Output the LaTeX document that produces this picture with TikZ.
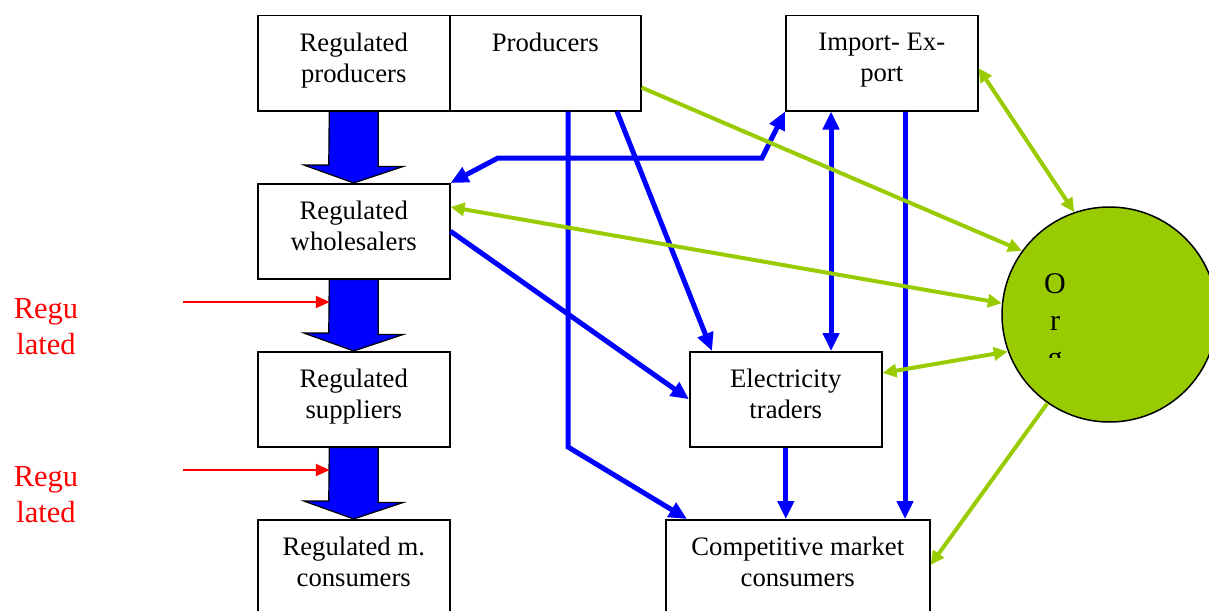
\documentclass[tikz,border=0pt]{standalone}
\usepackage{fontspec}
\setmainfont{Liberation Serif}
\usetikzlibrary{arrows.meta,calc}
\definecolor{ablue}{HTML}{0000FF}
\definecolor{agreen}{HTML}{99CC00}
\definecolor{ared}{HTML}{FF0000}
\begin{document}
\begin{tikzpicture}[x=1pt,y=-1pt,
  box/.style={draw,line width=1.5pt,anchor=north west,inner sep=0pt,minimum width=192pt,minimum height=95pt},
  btext/.style={anchor=north,align=center,inner sep=0pt,font=\fontsize{26.7}{31}\selectfont},
  rtext/.style={anchor=north,align=center,inner sep=0pt,text=ared,font=\fontsize{30.5}{36}\selectfont},
  blockarrow/.style={fill=ablue,draw=black,line width=1.2pt,line join=miter},
  bluearr/.style={draw=ablue,line width=5pt,-{Triangle[length=18pt,width=16pt]}},
  bluedbl/.style={draw=ablue,line width=5pt,{Triangle[length=18pt,width=16pt]}-{Triangle[length=18pt,width=16pt]}},
  greenarr/.style={draw=agreen,line width=4pt,-{Triangle[length=14pt,width=13pt]}},
  greendbl/.style={draw=agreen,line width=4pt,{Triangle[length=14pt,width=13pt]}-{Triangle[length=14pt,width=13pt]}},
  redarr/.style={draw=ared,line width=2pt,-{Triangle[length=14pt,width=12pt]}}]
\useasboundingbox (0,0) rectangle (1209,610);
\clip (0,0) rectangle (1209,610);

% boxes
\node[box] (rp) at (257,15) {};
\node[box,minimum width=191pt] (prod) at (449,15) {};
\node[box] (ie) at (785,15) {};
\node[box] (ww) at (257,183) {};
\node[box] (rs) at (257,351) {};
\node[box,minimum height=110pt] (rc) at (257,519) {};
\node[box] (et) at (689,351) {};
\node[box,minimum width=264pt,minimum height=110pt] (cm) at (665,519) {};

% box texts
\node[btext] (rpt) at ($(rp.north)+(0,18)$) {Regulated\\producers};
\node[btext] (prodt) at ($(prod.north)+(0,18)$) {Producers};
\node[btext] (iet) at ($(ie.north)+(0,18)$) {Import- Ex-\\port};
\node[btext] (wwt) at ($(ww.north)+(0,18)$) {Regulated\\wholesalers};
\node[btext] (rst) at ($(rs.north)+(0,18)$) {Regulated\\suppliers};
\node[btext] (rct) at ($(rc.north)+(0,18)$) {Regulated m.\\consumers};
\node[btext] (ett) at ($(et.north)+(0,18)$) {Electricity\\traders};
\node[btext] (cmt) at ($(cm.north)+(0,18)$) {Competitive market\\consumers};

% block arrows
\draw[blockarrow] ($(rp.south)+(-24.5,0)$) -- ++(49,0) -- ++(0,55) -- ++(25,0) -- (ww.north) -- ++(-50,-18) -- ++(25,0) -- cycle;
\draw[blockarrow] ($(ww.south)+(-24.5,0)$) -- ++(49,0) -- ++(0,55) -- ++(25,0) -- (rs.north) -- ++(-50,-18) -- ++(25,0) -- cycle;
\draw[blockarrow] ($(rs.south)+(-24.5,0)$) -- ++(49,0) -- ++(0,55) -- ++(25,0) -- (rc.north) -- ++(-50,-18) -- ++(25,0) -- cycle;

% red labels and arrows
\node[rtext] (reg1) at (46,298) {Regu\\lated};
\node[rtext] (reg2) at (46,466) {Regu\\lated};
\coordinate (r1s) at (183,302);
\coordinate (r1e) at ($(ww.south)+(-24,0)$);
\coordinate (r2s) at (183,470);
\coordinate (r2e) at ($(rs.south)+(-24,0)$);
\draw[redarr] (r1s) -- (r1s -| r1e);
\draw[redarr] (r2s) -- (r2s -| r2e);

% blue connectors
\coordinate (b1) at (498,158);
\coordinate (b2) at (762,158);
\draw[bluedbl,line join=miter] (ww.north east) -- (b1) -- (b2) -- (ie.south west);
\coordinate (pA) at ($(prod.south west)+(119,0)$);
\coordinate (pAb) at (568,447);
\draw[bluearr,line join=miter] (pA) -- (pAb) -- ($(cm.north west)+(22,0)$);
\draw[bluearr] ($(prod.south west)+(168,0)$) -- ($(et.north west)+(23,0)$);
\coordinate (ieA) at ($(ie.south west)+(46,0)$);
\draw[bluedbl] (ieA) -- (ieA |- et.north);
\coordinate (ieB) at ($(ie.south west)+(120,0)$);
\draw[bluearr] (ieB) -- (ieB |- cm.north);
\draw[bluearr] (et.south) -- (et.south |- cm.north);
\draw[bluearr] (ww.east) -- (et.west);

% organisation circle
\node[circle,draw,line width=1.5pt,fill=agreen,minimum size=215pt,inner sep=0pt] (org) at (1109.5,314.5) {};
\begin{scope}
\clip (1000,200) rectangle (1110,357);
\node[anchor=north,align=center,inner sep=0pt,font=\fontsize{30}{37}\selectfont] (orgt) at (1055,273) {O\\r\\g};
\end{scope}

% green connectors
\draw[greenarr] ($(prod.south east)+(0,-24)$) -- (org.144.5);
\draw[greendbl] ($(ie.north east)+(0,53)$) -- (org.109);
\draw[greendbl] ($(ww.north east)+(0,24)$) -- (org.174);
\draw[greendbl] ($(et.north east)+(0,22)$) -- (org.200);
\draw[greenarr] (org.235) -- ($(cm.north east)+(0,46)$);
\end{tikzpicture}
\end{document}
